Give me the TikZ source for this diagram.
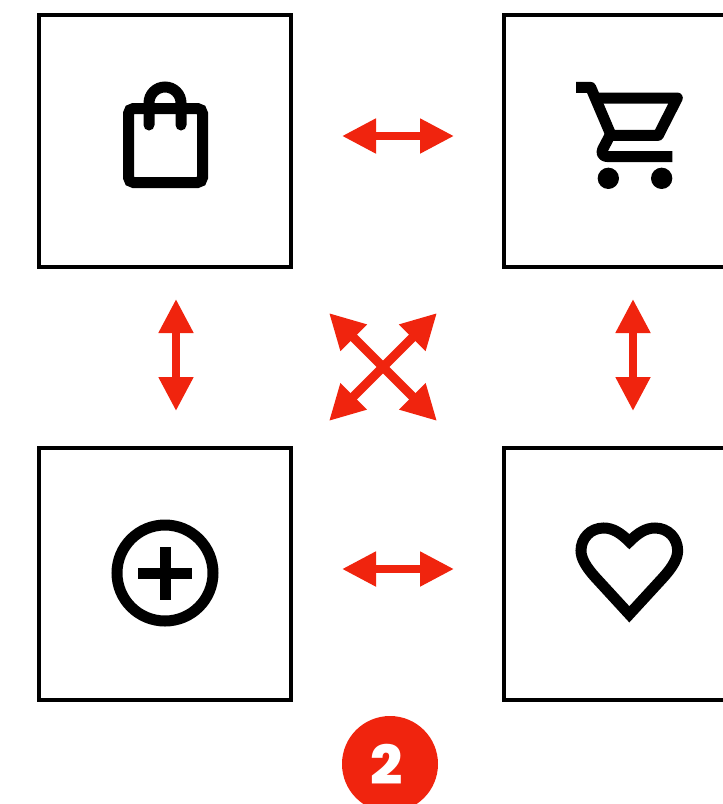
\documentclass[tikz,border=0pt]{standalone}
\usepackage{fontspec}
\setmainfont{Poppins}
\newfontfamily\heavyface{Poppins ExtraBold}
\usetikzlibrary{arrows.meta}
\definecolor{accent}{HTML}{F0240E}
\tikzset{
  panel/.style={draw=black,line width=4.6pt,minimum size=252pt,inner sep=0pt,outer sep=0pt},
  twoway/.style={accent,line width=8pt,{Triangle[length=34pt,width=33pt]}-{Triangle[length=34pt,width=33pt]}},
  crossway/.style={accent,line width=9pt,{Triangle[length=35pt,width=35pt]}-{Triangle[length=35pt,width=35pt]}},
  icon/.style={draw=black,line width=11pt},
  badge/.style={circle,fill=accent,minimum size=96pt,inner sep=0pt,outer sep=0pt},
  badgetext/.style={inner sep=0pt,text=white,font=\heavyface\fontsize{54}{54}\selectfont}
}
\begin{document}
\begin{tikzpicture}[x=1pt,y=-1pt]
\useasboundingbox (0,0) rectangle (723,804);
\clip (0,0) rectangle (723,804);
\fill[white] (0,0) rectangle (723,804);
% panels
\node[panel] (bag) at (165,141) {};
\node[panel] (cart) at (630,141) {};
\node[panel] (plus) at (165,574) {};
\node[panel] (heart) at (630,574) {};
% connectors
\coordinate (hta) at (342,136); \coordinate (htb) at (454,136);
\coordinate (hba) at (342,569); \coordinate (hbb) at (454,569);
\coordinate (vla) at (176,299); \coordinate (vlb) at (176,411);
\coordinate (vra) at (633,299); \coordinate (vrb) at (633,411);
\coordinate (dnw) at (329,313); \coordinate (dne) at (437,313);
\coordinate (dsw) at (329,421); \coordinate (dse) at (437,421);
\draw[twoway] (hta) -- (htb);
\draw[twoway] (hba) -- (hbb);
\draw[twoway] (vla) -- (vlb);
\draw[twoway] (vra) -- (vrb);
\draw[crossway] (dnw) -- (dse);
\draw[crossway] (dne) -- (dsw);
% bag icon
\draw[icon,rounded corners=5pt] (128.5,108.5) rectangle (202.5,182.5);
\draw[icon,line cap=round] (149,125) -- (149,103) arc[start angle=180,end angle=0,radius=16,y radius=-16] -- (181,125);
% cart icon
\begin{scope}[shift={(560,60)},x=0.3333pt,y=-0.3333pt]
\draw[icon,line join=round] (48,82) -- (92,82) -- (150,218);
\draw[icon,line join=round] (105,114) -- (352,114) -- (295,226) -- (150,226) -- (128,268) .. controls (122,282) and (130,290) .. (145,290) -- (337,290);
\fill[black] (145,355) circle[radius=32];
\fill[black] (305,355) circle[radius=32];
\end{scope}
% plus icon
\draw[icon] (165,573) circle[radius=48];
\draw[icon] (138,573.7) -- (192,573.7) (165.3,547) -- (165.3,600);
% heart icon
\begin{scope}[shift={(560,500)},x=0.3333pt,y=-0.3333pt]
\draw[icon,line join=miter] (208,125) .. controls (235,98) and (258,84) .. (285,84)
  .. controls (325,84) and (353,115) .. (353,152) .. controls (353,175) and (338,201) .. (310,232)
  -- (208,343) -- (106,232) .. controls (78,201) and (63,175) .. (63,152)
  .. controls (63,115) and (91,84) .. (131,84) .. controls (158,84) and (181,98) .. (208,125) -- cycle;
\end{scope}
% badge
\node[badge] (num) at (390,764) {};
\node[badgetext,xscale=1.05] (numtext) at (387,764) {2};
\end{tikzpicture}
\end{document}
